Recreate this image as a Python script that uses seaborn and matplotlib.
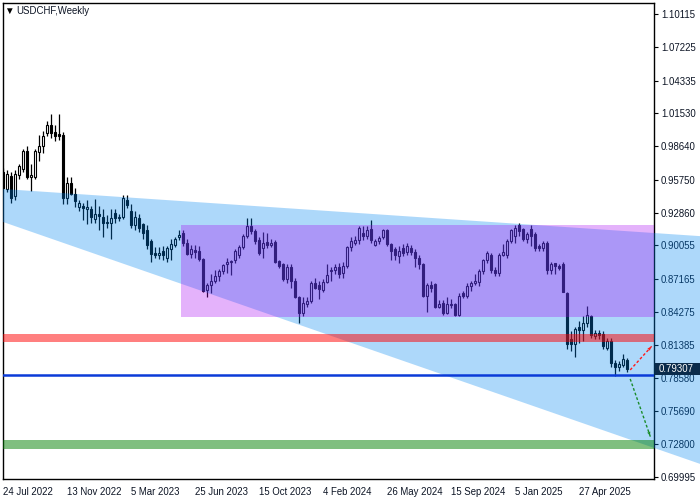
import numpy as np
import pandas as pd
import matplotlib
matplotlib.use("Agg")
import matplotlib.pyplot as plt
import matplotlib.transforms as mtransforms
from matplotlib.patches import Polygon, Rectangle
import seaborn as sns

symbol = "USDCHF,Weekly"
first_week = "2022-07-24"

# weekly OHLC
opens = [0.9640, 0.9490, 0.9605, 0.9430, 0.9615, 0.9665, 0.9825, 0.9595, 0.9600, 0.9812,
         0.9865, 0.9976, 1.0045, 0.9990, 0.9970, 0.9960, 0.9420, 0.9545, 0.9455, 0.9335,
         0.9345, 0.9320, 0.9325, 0.9230, 0.9275, 0.9250, 0.9200, 0.9200, 0.9282, 0.9240,
         0.9255, 0.9400, 0.9300, 0.9185, 0.9240, 0.9190, 0.9140, 0.9040, 0.8940, 0.8920,
         0.8960, 0.8900, 0.8975, 0.9010, 0.9080, 0.9110, 0.9030, 0.8935, 0.8965, 0.8960,
         0.8890, 0.8620, 0.8660, 0.8695, 0.8740, 0.8785, 0.8840, 0.8860, 0.8875, 0.8922,
         0.8990, 0.9085, 0.9170, 0.9130, 0.9050, 0.8985, 0.9035, 0.9010, 0.9035, 0.8870,
         0.8840, 0.8710, 0.8820, 0.8700, 0.8560, 0.8420, 0.8500, 0.8525, 0.8680, 0.8660,
         0.8620, 0.8690, 0.8780, 0.8790, 0.8820, 0.8770, 0.8830, 0.8990, 0.9030, 0.9050,
         0.9117, 0.9090, 0.9150, 0.9010, 0.9040, 0.9080, 0.9140, 0.9020, 0.8970, 0.8915,
         0.8985, 0.8950, 0.8980, 0.8950, 0.8900, 0.8840, 0.8570, 0.8660, 0.8670, 0.8470,
         0.8510, 0.8420, 0.8485, 0.8500, 0.8400, 0.8590, 0.8570, 0.8650, 0.8680, 0.8690,
         0.8780, 0.8880, 0.8920, 0.8790, 0.8770, 0.8920, 0.8920, 0.9040, 0.9090, 0.9180,
         0.9150, 0.9060, 0.9150, 0.9100, 0.9000, 0.8980, 0.9030, 0.8790, 0.8850, 0.8830,
         0.8840, 0.8590, 0.8190, 0.8150, 0.8300, 0.8270, 0.8330, 0.8390, 0.8220, 0.8250,
         0.8240, 0.8120, 0.8180, 0.7990, 0.7950, 0.7970, 0.8010]
highs = [0.9675, 0.9660, 0.9640, 0.9660, 0.9710, 0.9845, 0.9870, 0.9715, 0.9840, 0.9960,
         0.9995, 1.0080, 1.0148, 1.0050, 1.0148, 0.9990, 0.9600, 0.9600, 0.9500, 0.9400,
         0.9375, 0.9395, 0.9350, 0.9410, 0.9350, 0.9325, 0.9270, 0.9320, 0.9320, 0.9280,
         0.9440, 0.9440, 0.9360, 0.9300, 0.9280, 0.9200, 0.9180, 0.9060, 0.8990, 0.8990,
         0.9000, 0.9000, 0.9060, 0.9080, 0.9140, 0.9140, 0.9060, 0.9010, 0.9010, 0.9000,
         0.8900, 0.8680, 0.8760, 0.8790, 0.8800, 0.8845, 0.8895, 0.8880, 0.8970, 0.9010,
         0.9100, 0.9240, 0.9245, 0.9150, 0.9080, 0.9120, 0.9110, 0.9060, 0.9050, 0.8880,
         0.8850, 0.8840, 0.8840, 0.8720, 0.8570, 0.8560, 0.8560, 0.8700, 0.8720, 0.8700,
         0.8710, 0.8840, 0.8820, 0.8840, 0.8850, 0.8860, 0.9000, 0.9080, 0.9090, 0.9170,
         0.9170, 0.9170, 0.9225, 0.9060, 0.9090, 0.9150, 0.9150, 0.9030, 0.8990, 0.9000,
         0.9020, 0.9030, 0.9010, 0.8970, 0.8920, 0.8850, 0.8680, 0.8700, 0.8680, 0.8530,
         0.8530, 0.8560, 0.8540, 0.8510, 0.8590, 0.8610, 0.8680, 0.8700, 0.8760, 0.8800,
         0.8885, 0.8960, 0.8940, 0.8820, 0.8940, 0.9020, 0.9060, 0.9150, 0.9180, 0.9200,
         0.9160, 0.9120, 0.9180, 0.9120, 0.9020, 0.9040, 0.9040, 0.8860, 0.8850, 0.8840,
         0.8860, 0.8600, 0.8266, 0.8300, 0.8350, 0.8390, 0.8480, 0.8400, 0.8270, 0.8270,
         0.8260, 0.8200, 0.8200, 0.8010, 0.8000, 0.8060, 0.8030]
lows = [0.9490, 0.9470, 0.9370, 0.9400, 0.9580, 0.9640, 0.9580, 0.9480, 0.9580, 0.9740,
        0.9810, 0.9950, 0.9940, 0.9910, 0.9920, 0.9360, 0.9360, 0.9440, 0.9340, 0.9300,
        0.9225, 0.9195, 0.9200, 0.9200, 0.9135, 0.9075, 0.9160, 0.9060, 0.9200, 0.9220,
        0.9230, 0.9330, 0.9160, 0.9140, 0.9120, 0.9060, 0.8970, 0.8860, 0.8900, 0.8890,
        0.8880, 0.8860, 0.8880, 0.8990, 0.9050, 0.9000, 0.8920, 0.8900, 0.8900, 0.8870,
        0.8600, 0.8555, 0.8590, 0.8680, 0.8700, 0.8760, 0.8770, 0.8745, 0.8850, 0.8900,
        0.8970, 0.9070, 0.9100, 0.9020, 0.8920, 0.8900, 0.8980, 0.8990, 0.8850, 0.8810,
        0.8700, 0.8680, 0.8640, 0.8550, 0.8333, 0.8390, 0.8470, 0.8510, 0.8630, 0.8545,
        0.8600, 0.8680, 0.8700, 0.8760, 0.8720, 0.8720, 0.8810, 0.8960, 0.9010, 0.9020,
        0.9050, 0.9060, 0.9030, 0.9000, 0.9020, 0.9060, 0.9000, 0.8880, 0.8880, 0.8850,
        0.8910, 0.8920, 0.8920, 0.8820, 0.8800, 0.8560, 0.8430, 0.8600, 0.8460, 0.8460,
        0.8400, 0.8410, 0.8460, 0.8390, 0.8390, 0.8550, 0.8550, 0.8610, 0.8660, 0.8650,
        0.8760, 0.8850, 0.8770, 0.8740, 0.8740, 0.8910, 0.8900, 0.9030, 0.9030, 0.9090,
        0.9040, 0.9030, 0.9000, 0.8960, 0.8960, 0.8960, 0.8760, 0.8760, 0.8760, 0.8790,
        0.8600, 0.8110, 0.8088, 0.8040, 0.8160, 0.8180, 0.8300, 0.8200, 0.8190, 0.8190,
        0.8110, 0.8100, 0.7950, 0.7875, 0.7920, 0.7950, 0.7910]
closes = [0.9505, 0.9620, 0.9415, 0.9620, 0.9690, 0.9825, 0.9600, 0.9612, 0.9822, 0.9870,
          0.9950, 1.0052, 0.9978, 0.9950, 0.9955, 0.9415, 0.9545, 0.9455, 0.9390, 0.9370,
          0.9330, 0.9335, 0.9250, 0.9280, 0.9260, 0.9200, 0.9210, 0.9245, 0.9240, 0.9250,
          0.9420, 0.9355, 0.9180, 0.9250, 0.9160, 0.9110, 0.9010, 0.8930, 0.8925, 0.8940,
          0.8920, 0.8980, 0.9020, 0.9060, 0.9095, 0.9030, 0.8935, 0.8970, 0.8950, 0.8890,
          0.8613, 0.8660, 0.8700, 0.8740, 0.8780, 0.8835, 0.8865, 0.8870, 0.8955, 0.8990,
          0.9090, 0.9170, 0.9130, 0.9045, 0.8940, 0.9030, 0.9010, 0.9030, 0.8865, 0.8830,
          0.8710, 0.8820, 0.8700, 0.8555, 0.8420, 0.8505, 0.8525, 0.8680, 0.8640, 0.8625,
          0.8690, 0.8750, 0.8790, 0.8820, 0.8760, 0.8830, 0.8990, 0.9040, 0.9050, 0.9160,
          0.9091, 0.9140, 0.9050, 0.9040, 0.9070, 0.9140, 0.9020, 0.8960, 0.8920, 0.8960,
          0.8940, 0.9000, 0.8950, 0.8900, 0.8840, 0.8570, 0.8660, 0.8640, 0.8470, 0.8500,
          0.8420, 0.8500, 0.8500, 0.8400, 0.8570, 0.8570, 0.8650, 0.8680, 0.8700, 0.8780,
          0.8875, 0.8940, 0.8790, 0.8765, 0.8920, 0.8945, 0.9040, 0.9140, 0.9160, 0.9130,
          0.9060, 0.9100, 0.9090, 0.8980, 0.8980, 0.9030, 0.8790, 0.8840, 0.8830, 0.8810,
          0.8600, 0.8150, 0.8150, 0.8283, 0.8270, 0.8330, 0.8400, 0.8230, 0.8250, 0.8230,
          0.8130, 0.8180, 0.7990, 0.7950, 0.7980, 0.8020, 0.79307]

price_ticks = [1.10115, 1.07225, 1.04335, 1.01530, 0.98640, 0.95750, 0.92860, 0.90055,
               0.87165, 0.84275, 0.81385, 0.78580, 0.75690, 0.72800, 0.69995]
date_ticks = ["24 Jul 2022", "13 Nov 2022", "5 Mar 2023", "25 Jun 2023", "15 Oct 2023",
              "4 Feb 2024", "26 May 2024", "15 Sep 2024", "5 Jan 2025", "27 Apr 2025"]

# analysis objects drawn on the chart (bar index, price)
channel_bars = [0, 160]
channel_upper = [0.9494, 0.9119]
channel_lower = [0.9208, 0.7283]
box_start_bar = 44.5
box_prices = [0.8385, 0.9182]
resistance_band = [0.8168, 0.8238]
target_band = [0.7241, 0.7319]
support_level = 0.7878
up_arrow = [(156.75, 0.7926), (162.4, 0.8142)]
down_arrow = [(156.75, 0.7848), (161.9, 0.7337)]
last_price = closes[-1]

sns.set_style("white")
plt.rcParams["font.family"] = ["Liberation Sans", "DejaVu Sans"]
text_color = "#0c1424"
fs = 6.9

df = pd.DataFrame({"open": opens, "high": highs, "low": lows, "close": closes},
                  index=pd.date_range(first_week, periods=len(closes), freq="7D"))
df["bar"] = np.arange(len(df))

W, H = 700, 500
fig = plt.figure(figsize=(W / 100, H / 100), dpi=100)
ax = fig.add_axes([3 / W, 21 / H, 651 / W, 476 / H])
xmin, xmax = -0.05, 162.7
ymin, ymax = 0.6981, 1.1106
ax.set_xlim(xmin, xmax)
ax.set_ylim(ymin, ymax)

# candles
rising = df["close"] >= df["open"]
ax.vlines(df["bar"], df["low"], df["high"], color="black", lw=0.9, zorder=2)
body = (df["close"] - df["open"]).abs().clip(lower=0.0005)
ax.bar(df["bar"], body, bottom=df[["open", "close"]].min(axis=1), width=0.64,
       color=np.where(rising, "white", "black"), edgecolor="black", linewidth=0.8, zorder=3)


def on_line(x, ys):
    slope = (ys[1] - ys[0]) / (channel_bars[1] - channel_bars[0])
    return ys[0] + slope * (x - channel_bars[0])


# channel runs under the price scale up to the window edge
x_edge = xmax + (xmax - xmin) * (W - 654) / 651
chan = Polygon([(xmin, on_line(xmin, channel_upper)), (x_edge, on_line(x_edge, channel_upper)),
                (x_edge, on_line(x_edge, channel_lower)), (xmin, on_line(xmin, channel_lower))],
               closed=True, facecolor="#0087f2", alpha=0.32, edgecolor="none",
               zorder=4, clip_on=False)
ax.add_patch(chan)

ax.add_patch(Rectangle((box_start_bar, box_prices[0]), xmax - box_start_bar,
                       box_prices[1] - box_prices[0], facecolor="#a802f2", alpha=0.3,
                       edgecolor="none", zorder=5))
ax.axhspan(*resistance_band, color="red", alpha=0.5, lw=0, zorder=5)
ax.axhspan(*target_band, color="green", alpha=0.5, lw=0, zorder=5)
ax.axhline(support_level, color="#0b3bd8", lw=1.8, zorder=6)

for (p0, p1), col in [(up_arrow, "#ff1a1a"), (down_arrow, "#1a8c2a")]:
    ax.plot([p0[0], p1[0]], [p0[1], p1[1]], color=col, lw=1, ls=(0, (2, 1.5)), zorder=6)
    tail = (p0[0] + 0.8 * (p1[0] - p0[0]), p0[1] + 0.8 * (p1[1] - p0[1]))
    ax.annotate("", xy=p1, xytext=tail, zorder=6,
                arrowprops=dict(arrowstyle="-|>", color=col, lw=0.01, mutation_scale=6))

# last price tag on the price scale
blend = mtransforms.blended_transform_factory(ax.transAxes, ax.transData)
tag_h = 12 * (ymax - ymin) / 476
ax.add_patch(Rectangle((652 / 651, last_price - tag_h / 2), 45 / 651, tag_h, transform=blend,
                       facecolor="#0b2b4b", edgecolor="none", zorder=8, clip_on=False))
ax.text(656 / 651, last_price, f"{last_price:.5f}", transform=blend, color="white",
        fontsize=fs, va="center", ha="left", zorder=9)

# axes
ax.yaxis.tick_right()
ax.set_yticks(price_ticks)
ax.set_yticklabels([f"{p:.5f}" for p in price_ticks])
tick_pos = [df.index.get_loc(pd.Timestamp(d)) for d in date_ticks]
ax.set_xticks(tick_pos)
ax.set_xticklabels(date_ticks, ha="left")
ax.tick_params(axis="y", direction="out", length=3, width=0.8, pad=2,
               labelsize=fs, labelcolor=text_color, color="black")
ax.tick_params(axis="x", direction="out", length=4, width=0.8, pad=2,
               labelsize=fs, labelcolor=text_color, color="black")
for s in ax.spines.values():
    s.set_color("black")
    s.set_linewidth(1)
ax.grid(False)

fig.text(4 / W, 1 - 11 / H, "▼", fontsize=7, color="black", va="center", ha="left")
fig.text(16 / W, 1 - 11 / H, symbol, fontsize=fs, color=text_color, va="center", ha="left")

fig.savefig("out.png", dpi=100, facecolor="white")
